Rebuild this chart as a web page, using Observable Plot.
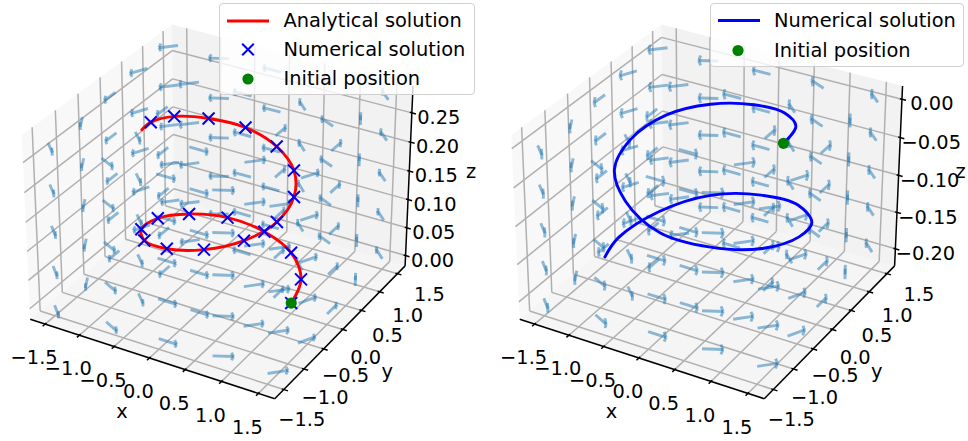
<!DOCTYPE html>
<html>
<head>
<meta charset="utf-8">
<script src="https://cdn.jsdelivr.net/npm/d3@7"></script>
<script src="https://cdn.jsdelivr.net/npm/@observablehq/plot@0.6"></script>
<style>
html,body{margin:0;padding:0;background:#fff}
#page{position:relative;width:968px;height:441px;overflow:hidden;font-family:"DejaVu Sans",sans-serif}
#page>svg.chart{position:absolute;top:0}
.legend{position:absolute;background:rgba(255,255,255,.8);border:1.5px solid #d0d0d0;border-radius:4px;box-sizing:border-box}
.legend span{position:absolute;font-size:19.4px;line-height:24px;white-space:nowrap;color:#000}
.legend svg{position:absolute;left:0;top:0;overflow:visible}
</style>
</head>
<body>
<div id="page"></div>
<script>
// ---- axis ticks
const xTicks = [-1.5,-1,-0.5,0,0.5,1,1.5];
const xTickLabels = ["−1.5","−1.0","−0.5","0.0","0.5","1.0","1.5"];
const zTicksLeft = [0,0.05,0.10,0.15,0.20,0.25];
const zTickLabelsLeft = ["0.00","0.05","0.10","0.15","0.20","0.25"];
const zTicksRight = [0,-0.05,-0.10,-0.15,-0.20];
const zTickLabelsRight = ["0.00","−0.05","−0.10","−0.15","−0.20"];
const xyLimit = [-1.72,1.72];
const zLimitLeft = [-0.0187,0.2953];
const zLimitRight = [-0.2237,0.0171];

// ---- vector field (same in both panels, rows follow gridY, columns follow gridX)
const gridX = [-1.5,-0.75,0,0.75,1.5];
const gridY = [-1.5,-0.75,0,0.75,1.5];
const levelsLeft = [0,0.069,0.138,0.208,0.277];
const levelsRight = [0,-0.05,-0.10,-0.15,-0.20];
const fieldU = [
 [0.707,0.894,1,0.894,0.707],
 [0.447,0.707,1,0.707,0.447],
 [0,0,0,0,0],
 [-0.447,-0.707,-1,-0.707,-0.447],
 [-0.707,-0.894,-1,-0.894,-0.707]];
const fieldV = [
 [-0.707,-0.447,0,0.447,0.707],
 [-0.894,-0.707,0,0.707,0.894],
 [-1,-1,0,1,1],
 [-0.894,-0.707,0,0.707,0.894],
 [-0.707,-0.447,0,0.447,0.707]];

// ---- left panel: analytical solution, the numerical crosses sit on it
const analyticX = [1,0.876,0.536,0.063,-0.426,-0.809,-0.992,-0.930,-0.637,-0.187,0.303,0.693,0.911,0.891,0.671,0.287,-0.174,-0.593,-0.865,-0.923,-0.863];
const analyticY = [0,0.482,0.844,0.998,0.905,0.588,0.125,-0.368,-0.771,-0.982,-0.932,-0.651,-0.234,0.229,0.630,0.884,0.913,0.717,0.342,-0.117,-0.421];
const analyticZ = [0,0.0057,0.0175,0.0284,0.042,0.0545,0.0688,0.0823,0.0985,0.1141,0.1273,0.139,0.1525,0.166,0.1798,0.1931,0.2089,0.2218,0.2376,0.2515,0.2581];
const crossCount = 20;

// ---- right panel: numerical solution
const numericX = [1,0.892,0.525,0,-0.545,-0.961,-1.14,-1.013,-0.59,0,0.605,1.057,1.235,1.083,0.635,0,-0.655,-1.152,-1.35,-1.317];
const numericY = [0,0.515,0.909,1.07,0.944,0.555,0,-0.585,-1.022,-1.2,-1.048,-0.61,0,0.625,1.1,1.29,1.134,0.665,0,-0.378];
const numericZ = [0,-0.0035,-0.0126,-0.0216,-0.029,-0.037,-0.0493,-0.059,-0.0689,-0.0854,-0.0944,-0.1048,-0.1141,-0.1294,-0.1402,-0.1526,-0.1632,-0.1774,-0.1871,-0.1944];
const initial = [1,0,0];

// ---- camera: perspective view from elevation 30, azimuth -60
const ARROW = 0.25, HEAD_BACK = 0.025, HEAD_Z = 0.0065;
function camera(zLim){
  const bx = 1.142857, bz = 0.857143;
  const [x0,x1] = xyLimit, [z0,z1] = zLim;
  return (x,y,z)=>{
    const qx = ((x-x0)/(x1-x0)-0.5)*bx, qy = ((y-x0)/(x1-x0)-0.5)*bx, qz = ((z-z0)/(z1-z0)-0.5)*bz;
    const X = 0.8660254*qx+0.5*qy;
    const Y = -0.25*qx+0.4330127*qy+0.8660254*qz;
    const D = 0.4330127*qx-0.75*qy+0.5*qz;
    const w = 10-D;
    return [X/w,Y/w];
  };
}

function panel(opts){
  const p = camera(opts.zLim);
  const [a,b] = xyLimit, [c,d] = opts.zLim;
  const seg = (A,B)=>{const P=p(...A),Q=p(...B);return {x1:P[0],y1:P[1],x2:Q[0],y2:Q[1]};};
  const poly = pts=>pts.map(q=>p(...q));
  const link = (data,o)=>Plot.link(data,{x1:"x1",y1:"y1",x2:"x2",y2:"y2",...o});

  const panes = [
    {pts:poly([[a,a,c],[a,b,c],[a,b,d],[a,a,d]]),fill:"#f2f2f2"},
    {pts:poly([[a,b,c],[b,b,c],[b,b,d],[a,b,d]]),fill:"#e6e6e6"},
    {pts:poly([[a,a,c],[b,a,c],[b,b,c],[a,b,c]]),fill:"#ececec"}
  ];
  const grid = [];
  for(const t of xTicks){
    grid.push(seg([t,a,c],[t,b,c]),seg([t,b,c],[t,b,d]));
    grid.push(seg([a,t,c],[b,t,c]),seg([a,t,c],[a,t,d]));
  }
  for(const t of opts.zTicks){
    grid.push(seg([a,a,t],[a,b,t]),seg([a,b,t],[b,b,t]));
  }
  const axes = [seg([a,a,c],[b,a,c]),seg([b,a,c],[b,b,c]),seg([b,b,c],[b,b,d])];
  const tickOut = 0.056, tickIn = 0.028;
  const ticks = [];
  for(const t of xTicks){
    ticks.push(seg([t,a-tickOut,c],[t,a+tickIn,c]));
    ticks.push(seg([b+tickOut,t,c],[b-tickIn,t,c]));
  }
  for(const t of opts.zTicks) ticks.push(seg([b+tickOut,b,t],[b-tickIn,b,t]));

  const shafts = [], heads = [];
  for(const z of opts.levels) gridY.forEach((y,r)=>gridX.forEach((x,k)=>{
    const u = fieldU[r][k], v = fieldV[r][k];
    if(u===0&&v===0) return;
    const tip = [x+ARROW*u,y+ARROW*v,z];
    shafts.push(seg([x,y,z],tip));
    const back = [tip[0]-HEAD_BACK*u,tip[1]-HEAD_BACK*v];
    heads.push(seg(tip,[back[0],back[1],z+HEAD_Z]));
    heads.push(seg(tip,[back[0],back[1],z-HEAD_Z]));
  }));

  const tickText = (t3,label,dx,dy)=>{
    const P = p(...t3);
    return Plot.text([label],{x:()=>P[0],y:()=>P[1],text:d=>d,dx,dy,fontSize:19.4,fontFamily:"DejaVu Sans",fill:"#000"});
  };
  const title = (t3,label,dx,dy)=>tickText(t3,label,dx,dy);

  const curve = opts.curveX.map((x,i)=>p(x,opts.curveY[i],opts.curveZ[i]));
  const marks = [
    panes.map(q=>Plot.line(q.pts,{x:"0",y:"1",fill:q.fill,fillOpacity:0.5,stroke:"none"})),
    link(grid,{stroke:"#b0b0b0",strokeWidth:1.5}),
    link(shafts,{stroke:"#1f77b4",strokeOpacity:0.5,strokeWidth:2.9}),
    link(heads,{stroke:"#1f77b4",strokeOpacity:0.5,strokeWidth:2.9}),
    link(axes,{stroke:"#000",strokeWidth:1.5}),
    link(ticks,{stroke:"#000",strokeWidth:1.5}),
    Plot.line(curve,{x:"0",y:"1",stroke:opts.curveColor,strokeWidth:2.9,curve:"catmull-rom"})
  ];
  if(opts.crosses) marks.push(Plot.dot(curve.slice(0,opts.crosses),{x:"0",y:"1",symbol:"times",r:5.5,stroke:"#0000ff",strokeWidth:2}));
  const s = p(...initial);
  marks.push(Plot.dot([s],{x:"0",y:"1",r:5.6,fill:"#008000",stroke:"none"}));
  xTicks.forEach((t,i)=>marks.push(tickText([t,a,c],xTickLabels[i],-11,34)));
  const yDx=[18,21,22,23,26,28,32], yDy=[30,29,27,28,25,24,21];
  xTicks.forEach((t,i)=>marks.push(tickText([b,t,c],xTickLabels[i],yDx[i],yDy[i])));
  opts.zTicks.forEach((t,i)=>marks.push(tickText([b,b,t],opts.zLabels[i],opts.zDx[i],5)));
  marks.push(title([0,a,c],"x",-27.5,54));
  marks.push(title([b,0,c],"y",44.5,42));
  marks.push(title([b,b,(c+d)/2],"z",62,-6));

  const svg = Plot.plot({
    width:484,height:441,margin:0,
    style:{background:"transparent",overflow:"visible"},
    x:{domain:[-opts.cx/2452,(484-opts.cx)/2452],range:[0,484],axis:null},
    y:{domain:[-238.5/2452,202.5/2452],range:[441,0],axis:null},
    marks
  });
  svg.classList.add("chart");
  svg.style.left = opts.left+"px";
  return svg;
}

const page = document.getElementById("page");
page.appendChild(panel({
  left:0,cx:220.5,zLim:zLimitLeft,zTicks:zTicksLeft,zLabels:zTickLabelsLeft,
  zDx:[27,27,27,27,27,27],levels:levelsLeft,
  curveX:analyticX,curveY:analyticY,curveZ:analyticZ,curveColor:"#ff0000",crosses:crossCount
}));
page.appendChild(panel({
  left:484,cx:226,zLim:zLimitRight,zTicks:zTicksRight,zLabels:zTickLabelsRight,
  zDx:[30,31,31,31,30],levels:levelsRight,
  curveX:numericX,curveY:numericY,curveZ:numericZ,curveColor:"#0000ff",crosses:0
}));

// ---- legends
function legend(left,top,w,h,rows){
  const box = document.createElement("div");
  box.className = "legend";
  box.style.cssText = `left:${left}px;top:${top}px;width:${w}px;height:${h}px`;
  let g = "";
  rows.forEach(r=>{
    const cy = r.y-top, hx = r.hx-left;
    if(r.kind==="line") g+=`<line x1="${hx-21}" x2="${hx+21}" y1="${cy}" y2="${cy}" stroke="${r.color}" stroke-width="2.9"/>`;
    if(r.kind==="cross") g+=`<path d="M${hx-5.8} ${cy-5.8}L${hx+5.8} ${cy+5.8}M${hx-5.8} ${cy+5.8}L${hx+5.8} ${cy-5.8}" stroke="${r.color}" stroke-width="2"/>`;
    if(r.kind==="dot") g+=`<circle cx="${hx}" cy="${cy}" r="5.6" fill="${r.color}"/>`;
    const sp = document.createElement("span");
    sp.textContent = r.text;
    sp.style.left = (r.tx-left)+"px";
    sp.style.top = (cy-12)+"px";
    box.appendChild(sp);
  });
  const s = document.createElementNS("http://www.w3.org/2000/svg","svg");
  s.setAttribute("width",w);s.setAttribute("height",h);
  s.innerHTML = g;
  box.appendChild(s);
  page.appendChild(box);
}
legend(219,3,256,92,[
  {kind:"line",color:"#ff0000",text:"Analytical solution",y:20,hx:247,tx:282.5},
  {kind:"cross",color:"#0000ff",text:"Numerical solution",y:48.5,hx:247,tx:282.5},
  {kind:"dot",color:"#008000",text:"Initial position",y:78,hx:247,tx:282.5}
]);
legend(710,3,254,64,[
  {kind:"line",color:"#0000ff",text:"Numerical solution",y:19.5,hx:738,tx:773},
  {kind:"dot",color:"#008000",text:"Initial position",y:49.5,hx:737,tx:773}
]);
</script>
</body>
</html>
